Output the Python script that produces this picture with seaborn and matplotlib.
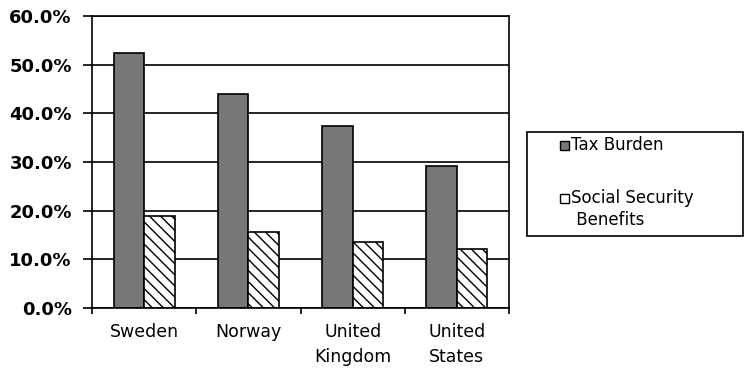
import matplotlib
matplotlib.use("Agg")
import matplotlib.pyplot as plt
import matplotlib.patches as mpatches
from matplotlib.ticker import FixedLocator, PercentFormatter
import seaborn as sns
import pandas as pd

countries = ["Sweden", "Norway", "United\nKingdom", "United\nStates"]
tax_burden = [52.4, 43.9, 37.4, 29.2]
social_security = [18.9, 15.7, 13.5, 12.2]
series_names = ["Tax Burden", "Social Security\n Benefits"]

df = pd.DataFrame({
    "country": countries * 2,
    "value": tax_burden + social_security,
    "series": [series_names[0]] * 4 + [series_names[1]] * 4,
})

sns.set_style("white")
plt.rcParams["font.family"] = ["DejaVu Sans"]
plt.rcParams["hatch.linewidth"] = 1.0
plt.rcParams["text.color"] = "black"
plt.rcParams["xtick.color"] = "black"
plt.rcParams["ytick.color"] = "black"

W, H = 745, 369
fig = plt.figure(figsize=(W / 100, H / 100), dpi=100)
ax = fig.add_axes([92 / W, 1 - 308 / H, (509 - 92) / W, (308 - 16) / H])

tax_color = "#777777"
sns.barplot(data=df, x="country", y="value", hue="series", ax=ax,
            width=0.585, gap=0, palette=[tax_color, "white"],
            edgecolor="black", linewidth=1.2, saturation=1, legend=False)

# second series gets a diagonal hatch
for bar in ax.containers[1]:
    bar.set_hatch("\\\\\\")

ax.set_ylim(0, 60)
ax.set_xlim(-0.5, 3.5)
ax.yaxis.set_major_locator(FixedLocator([0, 10, 20, 30, 40, 50, 60]))
ax.yaxis.set_major_formatter(PercentFormatter(decimals=1))
ax.grid(axis="y", color="black", linewidth=1.2)
ax.set_axisbelow(True)
for side in ["left", "bottom", "right", "top"]:
    ax.spines[side].set_visible(True)
    ax.spines[side].set_color("black")
    ax.spines[side].set_linewidth(1.2)

ax.set_xlabel("")
ax.set_ylabel("")
ax.tick_params(axis="y", which="major", direction="out", length=6.5, width=1.2,
               left=True, labelsize=13, pad=8, labelcolor="black")
for lab in ax.get_yticklabels():
    lab.set_fontweight("bold")
ax.tick_params(axis="x", which="major", length=0, labelsize=12.5, pad=11,
               labelcolor="black")
ax.xaxis.set_minor_locator(FixedLocator([-0.5, 0.5, 1.5, 2.5, 3.5]))
ax.tick_params(axis="x", which="minor", direction="out", length=4, width=1.2,
               bottom=True)
for lab in ax.get_xticklabels():
    lab.set_linespacing(1.45)

# legend box, swatches and labels in figure pixel coordinates
def fx(px):
    return px / W

def fy(py):
    return 1 - py / H

frame = mpatches.Rectangle((fx(527), fy(236)), fx(743) - fx(527), fy(132) - fy(236),
                           transform=fig.transFigure, facecolor="white",
                           edgecolor="black", linewidth=1.2)
fig.patches.append(frame)
swatch_styles = [dict(facecolor=tax_color), dict(facecolor="white")]
swatch_rows = [145, 198]
for name, style, row in zip(series_names, swatch_styles, swatch_rows):
    sw = mpatches.Rectangle((fx(560), fy(row + 4.5)), fx(569) - fx(560), fy(row - 4.5) - fy(row + 4.5),
                            transform=fig.transFigure, edgecolor="black",
                            linewidth=1.0, **style)
    fig.patches.append(sw)
    fig.text(fx(571), fy(row - 9), name, ha="left", va="top", fontsize=12,
             linespacing=1.3, color="black")

fig.savefig("out.png", dpi=100)
